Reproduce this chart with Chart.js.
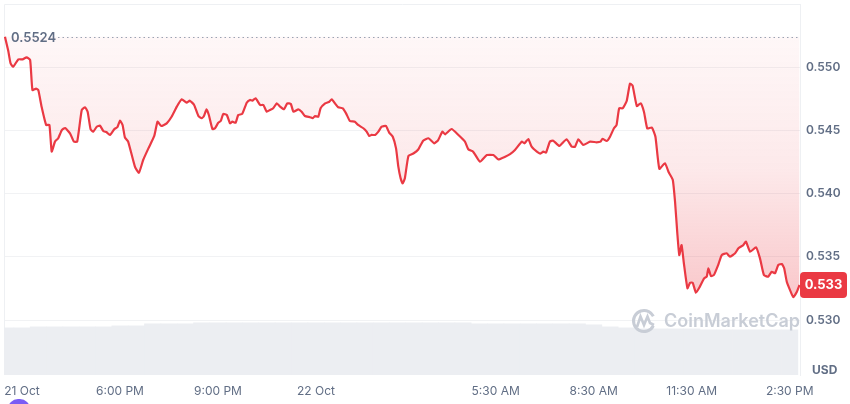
<!DOCTYPE html>
<html>
<head>
<meta charset="utf-8">
<script src="https://cdn.jsdelivr.net/npm/chart.js@4/dist/chart.umd.min.js"></script>
<style>
  html, body { margin: 0; padding: 0; background: #ffffff; }
  #wrap { width: 850px; height: 404px; position: relative; }
</style>
</head>
<body>
<div id="wrap"><canvas id="c" width="850" height="404"></canvas></div>
<script>
// ---- DATA (hours relative to 22 Oct 00:00, prices in USD) ----
const hours = [
  -9.52,-9.42,-9.35,-9.27,-9.11,-8.98,-8.86,-8.75,-8.68,-8.57,-8.50,-8.40,-8.26,-8.16,-8.09,-7.99,-7.89,-7.78,-7.68,-7.53,
  -7.41,-7.31,-7.17,-7.07,-6.99,-6.90,-6.82,-6.71,-6.61,-6.51,-6.41,-6.31,-6.17,-6.08,-6.00,-5.92,-5.85,-5.75,-5.54,-5.42,
  -5.29,-5.13,-4.95,-4.85,-4.74,-4.57,-4.42,-4.26,-4.11,-3.96,-3.86,-3.73,-3.60,-3.50,-3.43,-3.35,-3.28,-3.17,-3.09,-2.99,
  -2.91,-2.84,-2.73,-2.63,-2.56,-2.46,-2.38,-2.26,-2.12,-2.02,-1.95,-1.85,-1.71,-1.61,-1.51,-1.41,-1.31,-1.20,-1.10,-0.98,
  -0.88,-0.77,-0.69,-0.54,-0.44,-0.34,-0.18,-0.10,-0.03,0.07,0.14,0.28,0.41,0.48,0.58,0.68,0.82,0.92,1.04,1.19,
  1.29,1.45,1.55,1.63,1.70,1.81,1.91,2.01,2.14,2.24,2.35,2.45,2.52,2.59,2.65,2.72,2.83,2.98,3.13,3.28,
  3.44,3.62,3.74,3.87,3.95,4.15,4.36,4.56,4.66,4.81,5.02,5.23,5.43,5.58,5.79,5.94,6.09,6.30,6.38,6.50,
  6.60,6.76,6.86,6.96,7.04,7.16,7.26,7.45,7.67,7.83,7.93,8.03,8.18,8.39,8.59,8.71,8.77,8.90,9.00,9.12,
  9.20,9.28,9.39,9.51,9.61,9.69,9.82,9.94,10.04,10.14,10.28,10.39,10.51,10.68,10.80,10.92,10.99,11.06,11.12,11.19,
  11.26,11.37,11.45,11.53,11.63,11.75,11.88,11.96,12.01,12.09,12.18,12.31,12.42,12.57,12.67,12.83,12.93,13.08,13.16,13.29,
  13.47,13.59,13.71,13.84,13.95,14.05,14.15,14.26,14.33,14.41,14.51,14.61,14.72,14.80
];
const prices = [
  0.55240,0.55130,0.55031,0.55004,0.55062,0.55062,0.55078,0.55057,0.54820,0.54830,0.54820,0.54688,0.54543,0.54543,0.54332,0.54411,0.54438,0.54503,0.54519,0.54477,
  0.54411,0.54411,0.54661,0.54683,0.54648,0.54509,0.54490,0.54529,0.54537,0.54495,0.54485,0.54464,0.54511,0.54525,0.54577,0.54543,0.54445,0.54411,0.54211,0.54165,
  0.54266,0.54358,0.54456,0.54569,0.54535,0.54556,0.54608,0.54688,0.54746,0.54719,0.54735,0.54701,0.54614,0.54596,0.54614,0.54667,0.54622,0.54511,0.54517,0.54561,
  0.54577,0.54630,0.54622,0.54556,0.54569,0.54561,0.54622,0.54630,0.54719,0.54741,0.54735,0.54754,0.54701,0.54701,0.54648,0.54661,0.54675,0.54714,0.54688,0.54667,
  0.54714,0.54709,0.54648,0.54667,0.54648,0.54614,0.54604,0.54596,0.54614,0.54608,0.54675,0.54714,0.54727,0.54746,0.54714,0.54683,0.54675,0.54635,0.54574,0.54569,
  0.54543,0.54517,0.54490,0.54456,0.54464,0.54464,0.54490,0.54529,0.54535,0.54482,0.54450,0.54358,0.54213,0.54121,0.54080,0.54121,0.54298,0.54317,0.54349,0.54419,
  0.54438,0.54398,0.54424,0.54490,0.54469,0.54511,0.54464,0.54411,0.54351,0.54332,0.54252,0.54305,0.54305,0.54271,0.54292,0.54313,0.54345,0.54411,0.54398,0.54432,
  0.54371,0.54332,0.54317,0.54332,0.54324,0.54411,0.54419,0.54377,0.54430,0.54371,0.54371,0.54430,0.54385,0.54411,0.54406,0.54411,0.54434,0.54416,0.54450,0.54517,
  0.54543,0.54675,0.54675,0.54733,0.54869,0.54855,0.54693,0.54714,0.54646,0.54515,0.54523,0.54450,0.54196,0.54240,0.54167,0.54110,0.53936,0.53686,0.53514,0.53593,
  0.53449,0.53251,0.53295,0.53295,0.53216,0.53264,0.53330,0.53343,0.53409,0.53348,0.53356,0.53435,0.53514,0.53528,0.53501,0.53528,0.53567,0.53593,0.53620,0.53540,
  0.53575,0.53488,0.53356,0.53343,0.53382,0.53370,0.53435,0.53443,0.53409,0.53303,0.53237,0.53180,0.53224,0.53277
];
const openPrice = 0.5524;

// Volume (relative units), sampled every half hour
const volHours = [
  -9.5,-9.0,-8.5,-8.0,-7.5,-7.0,-6.5,-6.0,-5.5,-5.0,-4.5,-4.0,-3.5,-3.0,-2.5,-2.0,-1.5,-1.0,-0.5,0.0,
  0.5,1.0,1.5,2.0,2.5,3.0,3.5,4.0,4.5,5.0,5.5,6.0,6.5,7.0,7.5,8.0,8.5,9.0,9.5,10.0,
  10.5,11.0,11.5,12.0,12.5,13.0,13.5,14.0,14.5
];
const volumes = [
  47,47,48,48,48,48,48,49,49,51,51,51,52,52,52,52,52,52,52,52,
  52,52,52,52,52,52,52,52,52,51,51,51,51,51,51,51,50,48,47,46,
  46,46,46,45,45,45,45,45,45
];

// Axis tick positions and labels
const yTicks = [0.530, 0.535, 0.540, 0.545, 0.550];
const xTickHours = [-9, -6, -3, 0, 5.5, 8.5, 11.5, 14.5];
const xTickLabels = ['21 Oct', '6:00 PM', '9:00 PM', '22 Oct', '5:30 AM', '8:30 AM', '11:30 AM', '2:30 PM'];

// ---- CHART ----
const RED = '#ea3943';
const LABEL = '#616e85';

function fillGradient(ctx) {
  const chart = ctx.chart;
  const area = chart.chartArea;
  if (!area) return 'rgba(234,57,67,0.1)';
  const ys = chart.scales.y;
  const top = ys.getPixelForValue(openPrice);
  const bottom = ys.getPixelForValue(Math.min(...prices));
  const g = chart.ctx.createLinearGradient(0, top, 0, bottom);
  g.addColorStop(0, 'rgba(234,57,67,0.04)');
  g.addColorStop(0.5, 'rgba(234,57,67,0.11)');
  g.addColorStop(1, 'rgba(234,57,67,0.28)');
  return g;
}

const overlay = {
  id: 'overlay',
  beforeDatasetsDraw(chart) {
    const ctx = chart.ctx, a = chart.chartArea;
    ctx.save();
    ctx.strokeStyle = '#eef0f3';
    ctx.lineWidth = 1;
    ctx.beginPath();
    ctx.moveTo(a.left + 0.5, a.bottom);
    ctx.lineTo(a.left + 0.5, a.top + 0.5);
    ctx.lineTo(a.right, a.top + 0.5);
    ctx.stroke();
    ctx.restore();
  },
  afterDatasetsDraw(chart) {
    const ctx = chart.ctx, a = chart.chartArea, ys = chart.scales.y;
    const by = Math.round(ys.getPixelForValue(openPrice)) + 0.5;
    ctx.save();
    // dotted opening price line
    ctx.setLineDash([1.5, 3]);
    ctx.strokeStyle = '#9aa3b3';
    ctx.lineWidth = 1;
    ctx.beginPath();
    ctx.moveTo(58, by);
    ctx.lineTo(a.right, by);
    ctx.stroke();
    ctx.setLineDash([]);
    ctx.font = '600 13px Inter';
    ctx.fillStyle = LABEL;
    ctx.textBaseline = 'middle';
    ctx.textAlign = 'left';
    ctx.fillText(openPrice.toFixed(4), 11, by + 1);

    // watermark
    ctx.strokeStyle = '#c8cdd6';
    ctx.lineWidth = 3;
    ctx.beginPath();
    ctx.arc(644, 321, 10.5, Math.PI * 0.15, Math.PI * 1.85, false);
    ctx.stroke();
    ctx.beginPath();
    ctx.lineWidth = 2.6;
    ctx.moveTo(637, 327);
    ctx.lineTo(640.5, 316.5);
    ctx.lineTo(644, 325);
    ctx.lineTo(647.5, 316.5);
    ctx.lineTo(650, 323);
    ctx.lineTo(654, 325);
    ctx.stroke();
    ctx.font = '600 18px Inter';
    ctx.fillStyle = '#c8cdd6';
    ctx.textBaseline = 'middle';
    ctx.fillText('CoinMarketCap', 664, 322);
    ctx.restore();
  },
  afterDraw(chart) {
    const ctx = chart.ctx, ys = chart.scales.y;
    const last = prices[prices.length - 1];
    const py = ys.getPixelForValue(last);
    ctx.save();
    // price tag
    ctx.fillStyle = '#ea3943';
    ctx.beginPath();
    ctx.roundRect(800, py - 13, 47, 26, 4);
    ctx.fill();
    ctx.fillStyle = '#ffffff';
    ctx.font = '700 13px Inter';
    ctx.textAlign = 'center';
    ctx.textBaseline = 'middle';
    ctx.fillText(last.toFixed(3), 823.5, py + 0.5);
    // currency unit
    ctx.fillStyle = LABEL;
    ctx.font = '700 12px Inter';
    ctx.textAlign = 'left';
    ctx.fillText('USD', 812, 370);
    // purple badge at bottom left (partially visible)
    ctx.fillStyle = '#7a5cf5';
    ctx.beginPath();
    ctx.roundRect(8, 399, 22, 20, 10);
    ctx.fill();
    ctx.restore();
  }
};

new Chart(document.getElementById('c'), {
  data: {
    datasets: [
      {
        type: 'line',
        data: hours.map((h, i) => ({ x: h, y: prices[i] })),
        borderColor: RED,
        borderWidth: 2.2,
        pointRadius: 0,
        tension: 0.15,
        fill: { value: openPrice },
        backgroundColor: fillGradient,
        order: 0,
        yAxisID: 'y'
      },
      {
        type: 'bar',
        data: volHours.map((h, i) => ({ x: h, y: volumes[i] })),
        backgroundColor: '#eceef2',
        borderWidth: 0,
        barPercentage: 1,
        categoryPercentage: 1,
        order: 1,
        yAxisID: 'yv'
      }
    ]
  },
  options: {
    responsive: false,
    animation: false,
    devicePixelRatio: 1,
    layout: { padding: { left: 4, top: 4, right: 0, bottom: 0 } },
    plugins: { legend: { display: false }, tooltip: { enabled: false } },
    scales: {
      x: {
        type: 'linear',
        offset: false,
        min: -9.55,
        max: 14.815,
        afterBuildTicks: (s) => { s.ticks = xTickHours.map(v => ({ value: v })); },
        afterFit: (s) => { s.height = 29; s.paddingLeft = 0; s.paddingRight = 0; },
        ticks: {
          autoSkip: false,
          maxRotation: 0,
          padding: 9,
          color: LABEL,
          font: { family: 'Inter', size: 12, weight: 400 },
          callback: (v) => { const i = xTickHours.indexOf(v); return i >= 0 ? xTickLabels[i] : ''; }
        },
        grid: { display: false, drawTicks: false, offset: false },
        border: { display: false }
      },
      y: {
        position: 'right',
        min: 0.52565,
        max: 0.555,
        afterBuildTicks: (s) => { s.ticks = yTicks.map(v => ({ value: v })); },
        afterFit: (s) => { s.width = 50; s.paddingTop = 0; s.paddingBottom = 0; },
        ticks: {
          padding: 6,
          color: LABEL,
          font: { family: 'Inter', size: 12, weight: 600 },
          callback: (v) => Number(v).toFixed(3)
        },
        grid: { color: '#f1f2f4', drawTicks: false, lineWidth: 1 },
        border: { display: true, color: '#eef0f3' }
      },
      yv: {
        display: false,
        min: 0,
        max: 370
      }
    }
  },
  plugins: [overlay]
});
</script>
</body>
</html>
